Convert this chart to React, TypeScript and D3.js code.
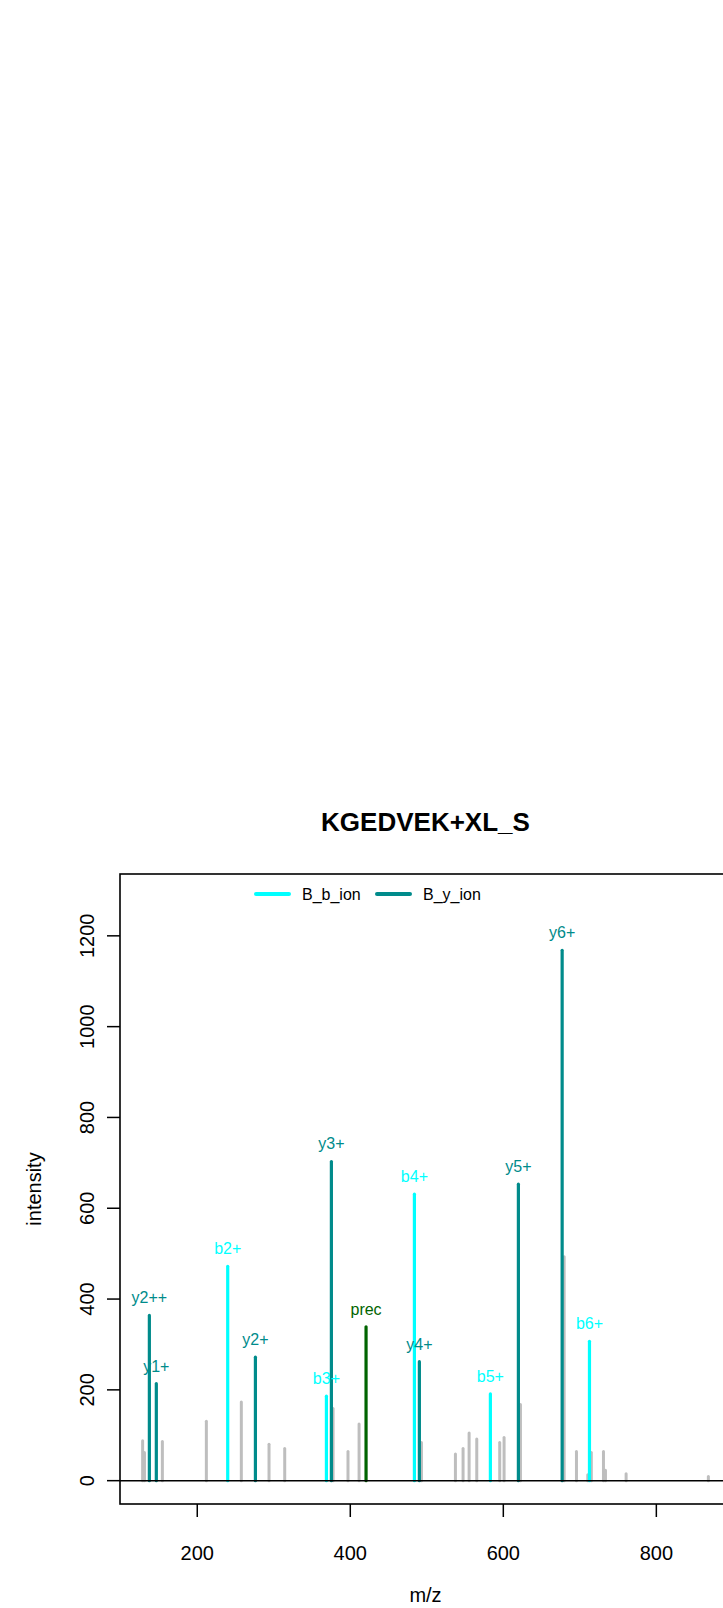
import React from "react";
import * as d3 from "d3";

const title = "KGEDVEK+XL_S";

// unannotated (gray) peaks
const grayMz = [128.6, 131, 154.4, 211.9, 257.6, 293.8, 314.3, 377.5, 397, 411.5, 493, 537.4, 547.4, 555.3, 565.3, 595.3, 601, 622.4, 679.5, 695.6, 710.4, 715, 730.9, 733.5, 760.5, 868];
const grayInt = [88, 62, 86, 131, 173, 80, 71, 159, 64, 125, 84, 59, 71, 105, 92, 84, 95, 168, 493, 64, 13, 62, 64, 23, 15, 9];

// annotated peaks
const ionLabels = ["y2++", "y1+", "b2+", "y2+", "b3+", "y3+", "prec", "b4+", "y4+", "b5+", "y5+", "y6+", "b6+"];
const ionMz = [137.4, 146.5, 239.8, 276, 368.8, 375.3, 420.6, 483.8, 490.3, 583.1, 619.7, 676.9, 712.6];
const ionInt = [364, 214, 472, 272, 186, 703, 339, 631, 262, 191, 653, 1168, 307];
const ionType = ["y", "y", "b", "y", "b", "y", "prec", "b", "y", "b", "y", "y", "b"];

const legendLabels = ["B_b_ion", "B_y_ion"];
const legendTypes = ["b", "y"];

const xTicks = [200, 400, 600, 800];
const yTicks = [0, 200, 400, 600, 800, 1000, 1200];

const colors: Record<string, string> = { b: "#00FFFF", y: "#008B8B", prec: "#006400" };
const GRAY = "#BEBEBE";
const FONT = "'Liberation Sans', Arial, Helvetica, sans-serif";

export default function App() {
  const W = 723, H = 1608;
  const left = 120, right = 731, top = 874, bottom = 1504;

  const allMz = [...grayMz, ...ionMz];
  const mzMin = d3.min(allMz)!, mzMax = d3.max(allMz)!;
  const xr = mzMax - mzMin;
  const x = d3.scaleLinear().domain([mzMin - 0.04 * xr, mzMax + 0.04 * xr]).range([left, right]);

  const yMax = d3.max([...grayInt, ...ionInt])! * 1.1;
  const y = d3.scaleLinear().domain([-0.04 * yMax, 1.04 * yMax]).range([bottom, top]);

  const cx = (left + right) / 2;
  const cy = (top + bottom) / 2;

  return (
    <div style={{ position: "absolute", left: 0, top: 0 }}>
      <svg width={W} height={H} style={{ display: "block" }} fontFamily={FONT}>
        <rect x={0} y={0} width={W} height={H} fill="#fff" />
        <text x={cx} y={822} textAnchor="middle" dominantBaseline="central" fontWeight="bold" fontSize={26}>
          {title}
        </text>

        <defs>
          <clipPath id="plotclip">
            <rect x={left} y={top} width={right - left} height={bottom - top} />
          </clipPath>
        </defs>

        <g clipPath="url(#plotclip)">
          {grayMz.map((m, i) => (
            <line key={"g" + i} x1={x(m)} x2={x(m)} y1={y(0)} y2={y(grayInt[i])} stroke={GRAY} strokeWidth={3} strokeLinecap="round" />
          ))}
          {ionMz.map((m, i) => (
            <line key={"c" + i} x1={x(m)} x2={x(m)} y1={y(0)} y2={y(ionInt[i])} stroke={colors[ionType[i]]} strokeWidth={3.2} strokeLinecap="round" />
          ))}
          <line x1={left} x2={right} y1={y(0)} y2={y(0)} stroke="#000" strokeWidth={1.5} />
          {ionMz.map((m, i) => (
            <text key={"t" + i} x={x(m)} y={y(ionInt[i]) - 17.5} textAnchor="middle" dominantBaseline="central" fontSize={16} fill={colors[ionType[i]]}>
              {ionLabels[i]}
            </text>
          ))}
          {legendLabels.map((l, i) => {
            const x0 = 256 + i * 121;
            return (
              <g key={"l" + i}>
                <line x1={x0} x2={x0 + 33} y1={894} y2={894} stroke={colors[legendTypes[i]]} strokeWidth={4} strokeLinecap="round" />
                <text x={x0 + 46} y={894} dominantBaseline="central" fontSize={16}>{l}</text>
              </g>
            );
          })}
        </g>

        <rect x={left} y={top} width={right - left} height={bottom - top} fill="none" stroke="#000" strokeWidth={1.6} />

        {/* y axis */}
        {yTicks.map((t) => (
          <g key={"yt" + t}>
            <line x1={left - 13} x2={left} y1={y(t)} y2={y(t)} stroke="#000" strokeWidth={1.5} />
            <text transform={`translate(87,${y(t)}) rotate(-90)`} textAnchor="middle" dominantBaseline="central" fontSize={20}>
              {t}
            </text>
          </g>
        ))}
        {/* x axis */}
        {xTicks.map((t) => (
          <g key={"xt" + t}>
            <line x1={x(t)} x2={x(t)} y1={bottom} y2={bottom + 13} stroke="#000" strokeWidth={1.5} />
            <text x={x(t)} y={1553} textAnchor="middle" dominantBaseline="central" fontSize={20}>
              {t}
            </text>
          </g>
        ))}
        <text x={cx} y={1595} textAnchor="middle" dominantBaseline="central" fontSize={20}>m/z</text>
        <text transform={`translate(34,${cy}) rotate(-90)`} textAnchor="middle" dominantBaseline="central" fontSize={20}>intensity</text>
      </svg>
    </div>
  );
}
